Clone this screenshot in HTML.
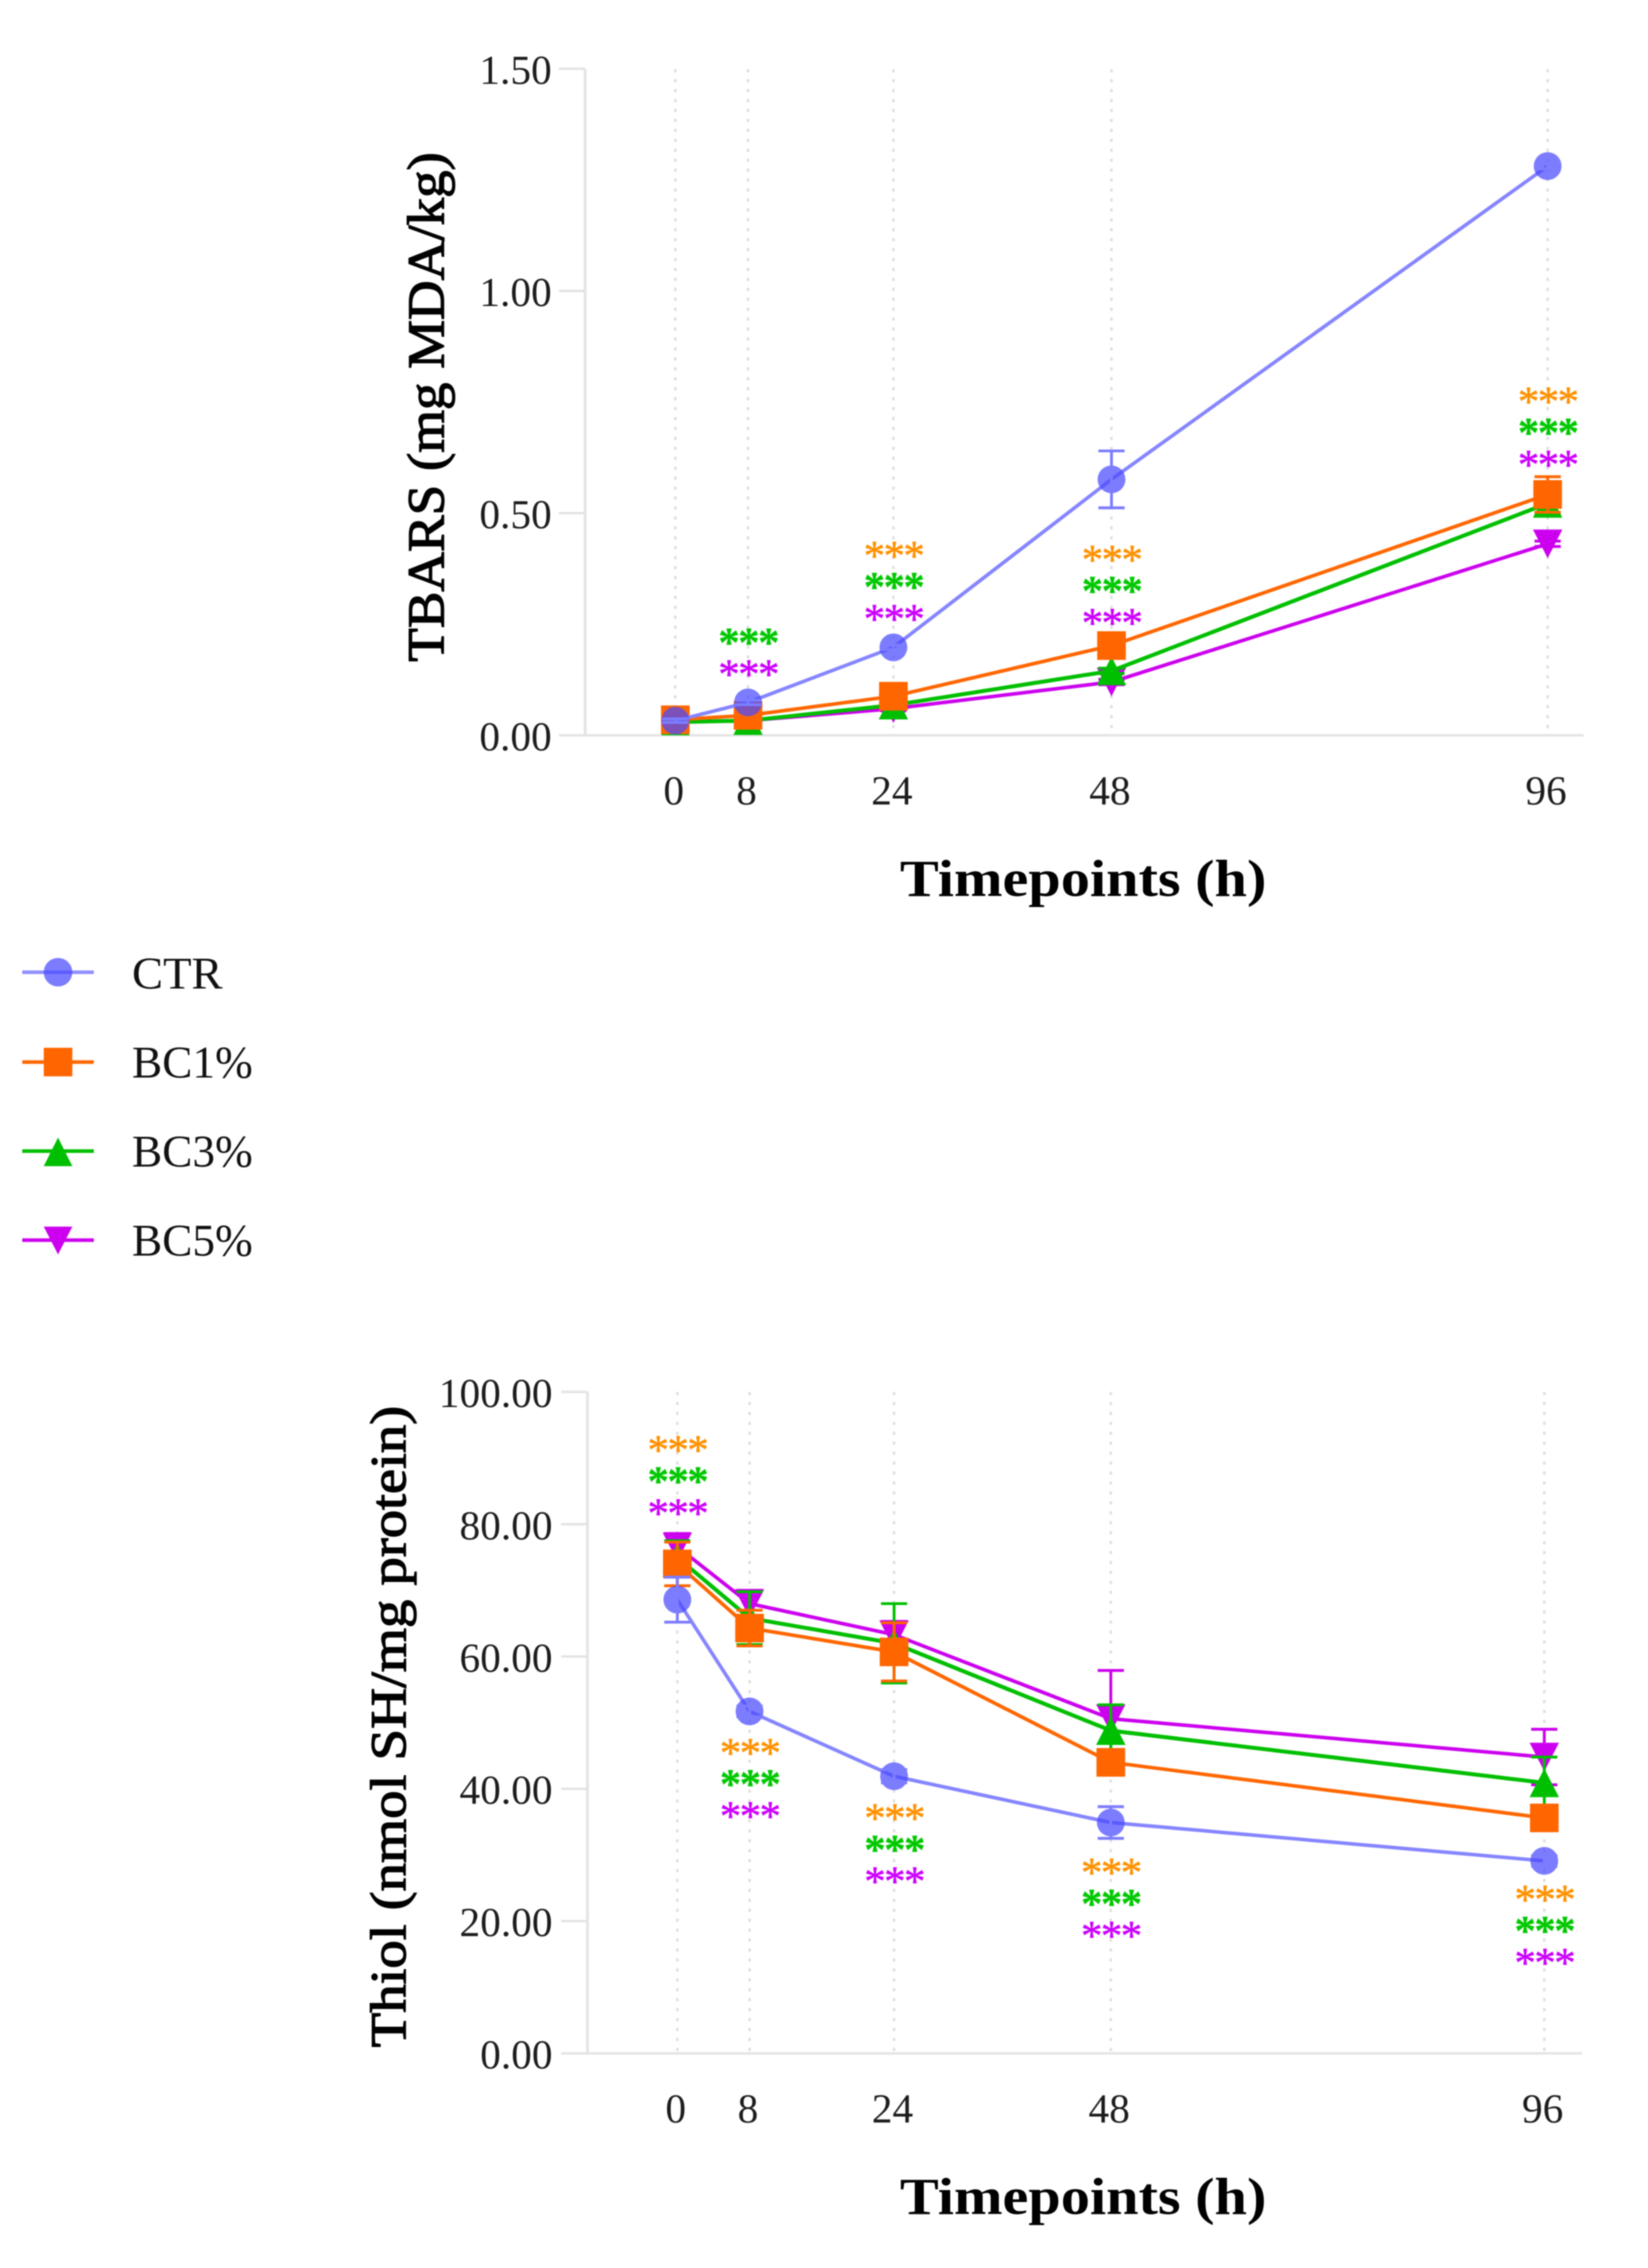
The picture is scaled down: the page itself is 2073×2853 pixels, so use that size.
<!DOCTYPE html>
<html lang="en">
<head>
<meta charset="utf-8">
<title>TBARS and Thiol timepoint charts</title>
<style>
  html, body { margin: 0; padding: 0; background: #ffffff; }
  #figure { display: block; filter: blur(0.8px); }
  text { font-family: "Liberation Serif", serif; fill: #1c1c1c; }
  .tick { font-size: 52px; }
  .title { font-size: 66px; font-weight: bold; fill: #000; }
  .y-title { font-weight: normal; stroke: #000; stroke-width: 1.5px; fill: #000; }
  .legend-label { font-size: 57px; fill: #111; }
</style>
</head>
<body>
<svg id="figure" xmlns="http://www.w3.org/2000/svg" width="2073" height="2853" viewBox="0 0 2073 2853">
  <rect x="0" y="0" width="2073" height="2853" fill="#ffffff"/>
  <defs>
    <clipPath id="clip-tbars"><rect x="737" y="40" width="1300" height="885"/></clipPath>
    <clipPath id="clip-thiol"><rect x="739" y="1700" width="1300" height="883"/></clipPath>
  </defs>
  <g id="tbars-chart"></g>
  <g id="thiol-chart"></g>

  <text class="title y-title" x="558" y="512" text-anchor="middle" textLength="641" lengthAdjust="spacingAndGlyphs" transform="rotate(-90 558 512)" style="font-size:66px">TBARS (mg MDA/kg)</text>
  <text class="title" x="1132" y="1127" textLength="461" lengthAdjust="spacingAndGlyphs">Timepoints (h)</text>
  <text class="title y-title" x="510" y="2172" text-anchor="middle" textLength="807" lengthAdjust="spacingAndGlyphs" transform="rotate(-90 510 2172)" style="font-size:64px">Thiol (nmol SH/mg protein)</text>
  <text class="title" x="1132" y="2785" textLength="461" lengthAdjust="spacingAndGlyphs">Timepoints (h)</text>

  <g>
    <g>
      <line x1="28" y1="1223" x2="118" y2="1223" stroke="#8f8fff" stroke-width="4.5"/>
      <circle cx="73" cy="1223" r="18" fill="#4a4aff" fill-opacity="0.72"/>
      <text class="legend-label" x="166" y="1243.5" textLength="114" lengthAdjust="spacingAndGlyphs">CTR</text>
    </g>
    <g>
      <line x1="28" y1="1336" x2="118" y2="1336" stroke="#ff6600" stroke-width="4.5"/>
      <rect x="55" y="1318" width="36" height="36" fill="#ff6600"/>
      <text class="legend-label" x="166" y="1355.5">BC1%</text>
    </g>
    <g>
      <line x1="28" y1="1448" x2="118" y2="1448" stroke="#00bf00" stroke-width="4.5"/>
      <polygon points="73,1431 91,1467 55,1467" fill="#00bf00"/>
      <text class="legend-label" x="166" y="1467.5">BC3%</text>
    </g>
    <g>
      <line x1="28" y1="1560" x2="118" y2="1560" stroke="#cc00ee" stroke-width="4.5"/>
      <polygon points="55,1543 91,1543 73,1578" fill="#cc00ee"/>
      <text class="legend-label" x="166" y="1579.5">BC5%</text>
    </g>
  </g>
</svg>

<script>
// ---- shared categories ----
const timepoints = [0, 8, 24, 48, 96];
const xTickLabels = ['0', '8', '24', '48', '96'];
const seriesNames = ['BC5', 'BC3', 'BC1', 'CTR'];

// ---- TBARS panel values (mg MDA/kg) ----
const tbarsTicks = [0, 0.5, 1, 1.5];
const tbarsTickLabels = ['0.00', '0.50', '1.00', '1.50'];
const tbarsCTR = [0.033, 0.074, 0.198, 0.576, 1.281];
const tbarsBC1 = [0.035, 0.045, 0.088, 0.202, 0.542];
const tbarsBC3 = [0.030, 0.033, 0.068, 0.145, 0.522];
const tbarsBC5 = [0.030, 0.033, 0.060, 0.120, 0.431];
const tbarsErrCTR = [0.004, 0.005, 0.005, 0.064, 0.006];
const tbarsErrBC1 = [0.004, 0.004, 0.005, 0.006, 0.040];
const tbarsErrBC3 = [0.004, 0.004, 0.005, 0.006, 0.025];
const tbarsErrBC5 = [0.004, 0.004, 0.005, 0.006, 0.006];
// top row of significance stars, in data units; null = no stars
const tbarsStarTop = [null, 0.292, 0.417, 0.408, 0.764];
const tbarsStarRows = [[], ['', 'BC3', 'BC5'], ['BC1', 'BC3', 'BC5'], ['BC1', 'BC3', 'BC5'], ['BC1', 'BC3', 'BC5']];

// ---- Thiol panel values (nmol SH/mg protein) ----
const thiolTicks = [0, 20, 40, 60, 80, 100];
const thiolTickLabels = ['0.00', '20.00', '40.00', '60.00', '80.00', '100.00'];
const thiolCTR = [68.6, 51.7, 41.9, 34.9, 29.1];
const thiolBC1 = [74.0, 64.3, 60.7, 44.0, 35.6];
const thiolBC3 = [75.0, 65.8, 62.0, 48.8, 40.9];
const thiolBC5 = [76.6, 68.0, 63.3, 50.6, 44.8];
const thiolErrCTR = [3.4, 0.8, 1.0, 2.4, 0.8];
const thiolErrBC1 = [3.3, 2.7, 4.4, 1.2, 1.0];
const thiolErrBC3 = [2.5, 4.0, 6.0, 3.9, 3.9];
const thiolErrBC5 = [2.0, 2.0, 2.0, 7.3, 4.2];
const thiolStarTop = [92.07, 46.27, 36.4, 28.2, 24.1];
const thiolStarRows = [['BC1', 'BC3', 'BC5'], ['BC1', 'BC3', 'BC5'], ['BC1', 'BC3', 'BC5'], ['BC1', 'BC3', 'BC5'], ['BC1', 'BC3', 'BC5']];

const SVGNS = 'http://www.w3.org/2000/svg';
const lineColors = { CTR: '#8585ff', BC1: '#ff6600', BC3: '#00bf00', BC5: '#cc00ee' };
const barColors = { CTR: '#7c7cff', BC1: '#ff6600', BC3: '#00bf00', BC5: '#cc00ee' };
const starColors = { BC1: '#ff9100', BC3: '#00c800', BC5: '#cc00ff' };

function mk(tag, attrs, parent) {
  const el = document.createElementNS(SVGNS, tag);
  for (const k in attrs) el.setAttribute(k, attrs[k]);
  parent.appendChild(el);
  return el;
}

function drawMarker(parent, series, x, y) {
  let el;
  if (series === 'CTR') {
    el = mk('circle', { cx: x, cy: y, r: 17.5, fill: '#4a4aff', 'fill-opacity': 0.72 }, parent);
  } else if (series === 'BC1') {
    el = mk('rect', { x: x - 18, y: y - 18, width: 36, height: 36, fill: lineColors.BC1 }, parent);
  } else if (series === 'BC3') {
    el = mk('polygon', { points: [x, y - 18, x + 18.5, y + 18, x - 18.5, y + 18].join(' '), fill: lineColors.BC3 }, parent);
  } else {
    el = mk('polygon', { points: [x - 18.5, y - 18, x + 18.5, y - 18, x, y + 18].join(' '), fill: lineColors.BC5 }, parent);
  }
  
  
}

function drawPanel(cfg) {
  const root = document.getElementById(cfg.id);
  const sx = function (t) { return cfg.x0 + t * cfg.xScale; };
  const sy = function (v) { return cfg.y0 - v * cfg.yScale; };

  // dotted vertical grid
  timepoints.forEach(function (t) {
    const el = mk('line', { x1: sx(t), x2: sx(t), y1: cfg.yTop, y2: cfg.y0, stroke: '#dedede', 'stroke-width': 3, 'stroke-dasharray': '4 8.5' }, root);
    
    
  });

  // y axis with ticks
  const yAxis = mk('line', { x1: cfg.axisX, x2: cfg.axisX, y1: cfg.yTop, y2: cfg.y0, stroke: '#e3e3e3', 'stroke-width': 3.5 }, root);
  
  
  const xAxis = mk('line', { x1: cfg.axisX, x2: cfg.xEnd, y1: cfg.y0, y2: cfg.y0, stroke: '#e3e3e3', 'stroke-width': 3 }, root);
  
  

  cfg.ticks.forEach(function (v, i) {
    const tick = mk('line', { x1: cfg.axisX - 33, x2: cfg.axisX, y1: sy(v), y2: sy(v), stroke: '#e3e3e3', 'stroke-width': 3 }, root);
    
    
    const label = mk('text', { x: cfg.yLabelX, y: sy(v) + 19, 'text-anchor': 'end', class: 'tick' }, root);
    label.textContent = cfg.tickLabels[i];
    
    
  });

  timepoints.forEach(function (t, i) {
    const label = mk('text', { x: sx(t) - cfg.xLabelShift, y: cfg.xLabelY, 'text-anchor': 'middle', class: 'tick' }, root);
    label.textContent = xTickLabels[i];
    
    
  });

  // series (drawn back to front)
  const plot = mk('g', { 'clip-path': 'url(#' + cfg.clip + ')' }, root);
  
  
  seriesNames.forEach(function (name) {
    const values = cfg.values[name];
    const errors = cfg.errors[name];
    const group = mk('g', {}, plot);
    
    
    const pts = values.map(function (v, i) { return sx(timepoints[i]) + ',' + sy(v); }).join(' ');
    const line = mk('polyline', { points: pts, fill: 'none', stroke: lineColors[name], 'stroke-width': name === 'BC3' ? 5 : 4.5, 'stroke-linejoin': 'round' }, group);
    
    
    values.forEach(function (v, i) {
      const x = sx(timepoints[i]);
      drawMarker(group, name, x, sy(v));
      const hi = sy(v + errors[i]);
      const lo = sy(v - errors[i]);
      const bar = mk('path', {
        d: 'M' + x + ' ' + hi + 'V' + lo + 'M' + (x - 16.5) + ' ' + hi + 'H' + (x + 16.5) + 'M' + (x - 16.5) + ' ' + lo + 'H' + (x + 16.5),
        fill: 'none', stroke: barColors[name], 'stroke-width': 3.6
      }, group);
      
      
    });
  });

  // significance stars
  timepoints.forEach(function (t, i) {
    if (cfg.starTop[i] === null) return;
    cfg.starRows[i].forEach(function (series, r) {
      if (!series) return;
      const star = mk('text', {
        x: sx(t) + cfg.starShift,
        y: sy(cfg.starTop[i]) + r * 39.7 + 25,
        'text-anchor': 'middle',
        'letter-spacing': '-2',
        stroke: starColors[series],
        'stroke-width': series === 'BC3' ? 0.3 : 0.6,
        style: 'font-size:54px;fill:' + starColors[series] + ';font-weight:' + (series === 'BC3' ? 'bold' : 'normal')
      }, root);
      star.textContent = '***';
      
      
    });
  });
}

drawPanel({
  id: 'tbars-chart', clip: 'clip-tbars',
  x0: 849.5, xScale: 11.43, y0: 925, yScale: 559, yTop: 87,
  axisX: 736, xEnd: 1992, yLabelX: 694, xLabelY: 1012, xLabelShift: 2, starShift: 0,
  ticks: tbarsTicks, tickLabels: tbarsTickLabels,
  values: { CTR: tbarsCTR, BC1: tbarsBC1, BC3: tbarsBC3, BC5: tbarsBC5 },
  errors: { CTR: tbarsErrCTR, BC1: tbarsErrBC1, BC3: tbarsErrBC3, BC5: tbarsErrBC5 },
  starTop: tbarsStarTop, starRows: tbarsStarRows
});
drawPanel({
  id: 'thiol-chart', clip: 'clip-thiol',
  x0: 852, xScale: 11.36, y0: 2583, yScale: 8.32, yTop: 1751,
  axisX: 739, xEnd: 1990, yLabelX: 695, xLabelY: 2670, xLabelShift: 2, starShift: 0,
  ticks: thiolTicks, tickLabels: thiolTickLabels,
  values: { CTR: thiolCTR, BC1: thiolBC1, BC3: thiolBC3, BC5: thiolBC5 },
  errors: { CTR: thiolErrCTR, BC1: thiolErrBC1, BC3: thiolErrBC3, BC5: thiolErrBC5 },
  starTop: thiolStarTop, starRows: thiolStarRows
});
</script>
</body>
</html>
